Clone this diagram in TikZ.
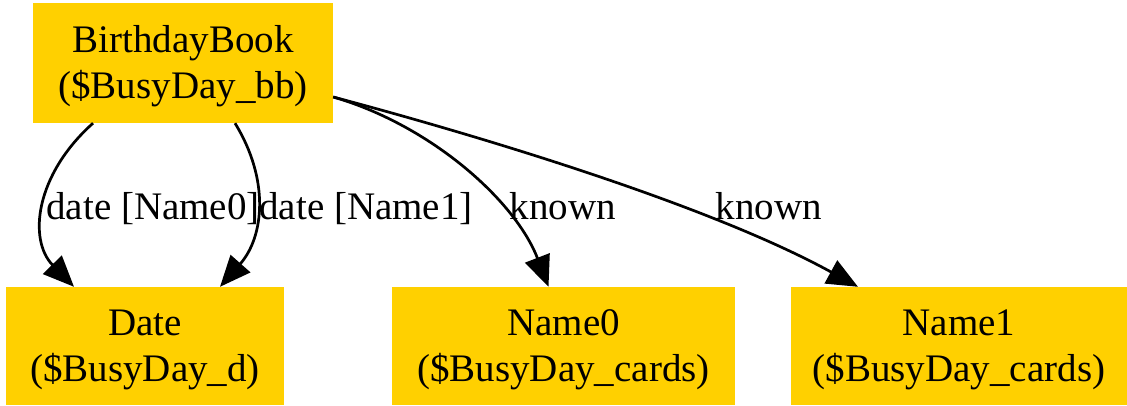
\documentclass[tikz,border=0pt]{standalone}
\usepackage{fontspec}
\setmainfont{Liberation Serif}
\usetikzlibrary{arrows.meta,calc}
\definecolor{boxgold}{HTML}{FFD000}
% two-line entity caption, set slightly low in its box
\newcommand{\entitytext}[2]{\raisebox{-3pt}[\height][\depth]{\begin{tabular}{@{}c@{}}#1\\#2\end{tabular}}}
\tikzset{
  entity/.style={fill=boxgold, draw=none, inner sep=0pt,
    font=\fontsize{39}{46}\selectfont},
  rel/.style={line width=2.7pt, -{Triangle[length=31pt,width=26pt]}},
  lbl/.style={anchor=base, inner sep=0pt, font=\fontsize{39}{46}\selectfont}
}
\begin{document}
\begin{tikzpicture}[x=1pt,y=-1pt]
\useasboundingbox (0,0) rectangle (1127,406);
% entities
\node[entity, minimum width=300pt, minimum height=120pt] (bb) at (183,63)
  {\entitytext{BirthdayBook}{(\$BusyDay\_bb)}};
\node[entity, minimum width=278pt, minimum height=118pt] (d) at (145,346)
  {\entitytext{Date}{(\$BusyDay\_d)}};
\node[entity, minimum width=343pt, minimum height=118pt] (n0) at (563.5,346)
  {\entitytext{Name0}{(\$BusyDay\_cards)}};
\node[entity, minimum width=336pt, minimum height=118pt] (n1) at (959,346)
  {\entitytext{Name1}{(\$BusyDay\_cards)}};
% relations
\draw[rel] ($(bb.south)+(-90,0)$) .. controls (35,175) and (28,240) .. ($(d.north)+(-71,0)$);
\draw[rel] ($(bb.south)+(52,0)$) .. controls (270,180) and (264,237) .. ($(d.north)+(75,0)$);
\draw[rel] ($(bb.east)+(0,34)$) .. controls (430,125) and (515,200) .. ($(n0.north)+(-15,0)$);
\draw[rel] ($(bb.east)+(0,34)$) .. controls (450,128) and (700,200) .. ($(n1.north)+(-101,0)$);
% relation labels
\node[lbl] (l1) at (153,219) {date [Name0]};
\node[lbl] (l2) at (366,219) {date [Name1]};
\node[lbl] (l3) at (563,219) {known};
\node[lbl] (l4) at (769,219) {known};
\end{tikzpicture}
\end{document}
